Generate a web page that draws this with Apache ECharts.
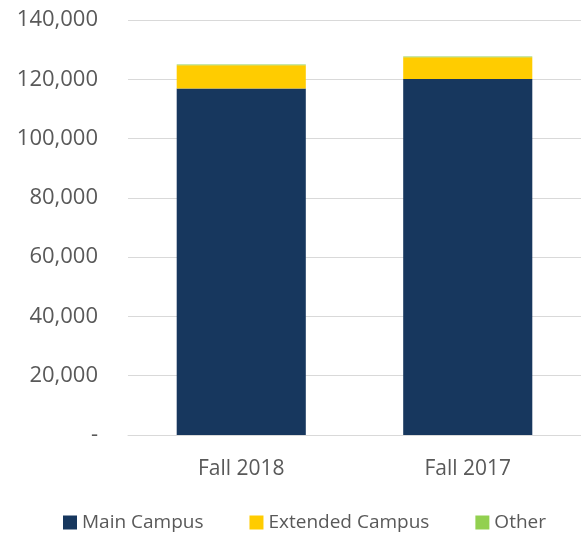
<!DOCTYPE html>
<html>
<head>
<meta charset="utf-8">
<script src="https://cdn.jsdelivr.net/npm/echarts@6/dist/echarts.min.js"></script>
<style>
  html, body { margin: 0; padding: 0; background: #fff; }
  #chart { width: 581px; height: 535px; }
</style>
</head>
<body>
<div id="chart"></div>
<script>
var categories = ["Fall 2018", "Fall 2017"];
var mainCampus = [116900, 120100];
var extendedCampus = [7800, 7300];
var other = [300, 300];
var seriesNames = ["Main Campus", "Extended Campus", "Other"];

var chart = echarts.init(document.getElementById("chart"));
var font = "'Open Sans', Lato, sans-serif";

var option = {
  animation: false,
  color: ["#17375e", "#ffcc00", "#92d050"],
  textStyle: { fontFamily: font },
  legend: {
    data: seriesNames,
    bottom: -2,
    left: 58,
    itemWidth: 14,
    itemHeight: 14,
    itemGap: 46,
    icon: "rect",
    textStyle: { color: "#595959", fontSize: 19, fontFamily: font }
  },
  grid: { left: 128, right: 0, top: 20, bottom: 100, containLabel: false },
  xAxis: {
    type: "category",
    data: categories,
    axisTick: { show: false },
    axisLine: { lineStyle: { color: "#d9d9d9" } },
    axisLabel: { color: "#595959", fontSize: 21, margin: 24, fontFamily: font }
  },
  yAxis: {
    type: "value",
    min: 0,
    max: 140000,
    interval: 20000,
    axisLine: { show: false },
    axisTick: { show: false },
    splitLine: { lineStyle: { color: "#d9d9d9" } },
    axisLabel: {
      color: "#595959",
      fontSize: 22,
      margin: 30,
      fontFamily: font,
      formatter: function (v) {
        if (v === 0) return "-";
        return v.toLocaleString("en-US");
      }
    }
  },
  series: [
    { name: seriesNames[0], type: "bar", stack: "total", barWidth: "57%", data: mainCampus },
    { name: seriesNames[1], type: "bar", stack: "total", data: extendedCampus },
    { name: seriesNames[2], type: "bar", stack: "total", data: other }
  ]
};
chart.setOption(option);
</script>
</body>
</html>
